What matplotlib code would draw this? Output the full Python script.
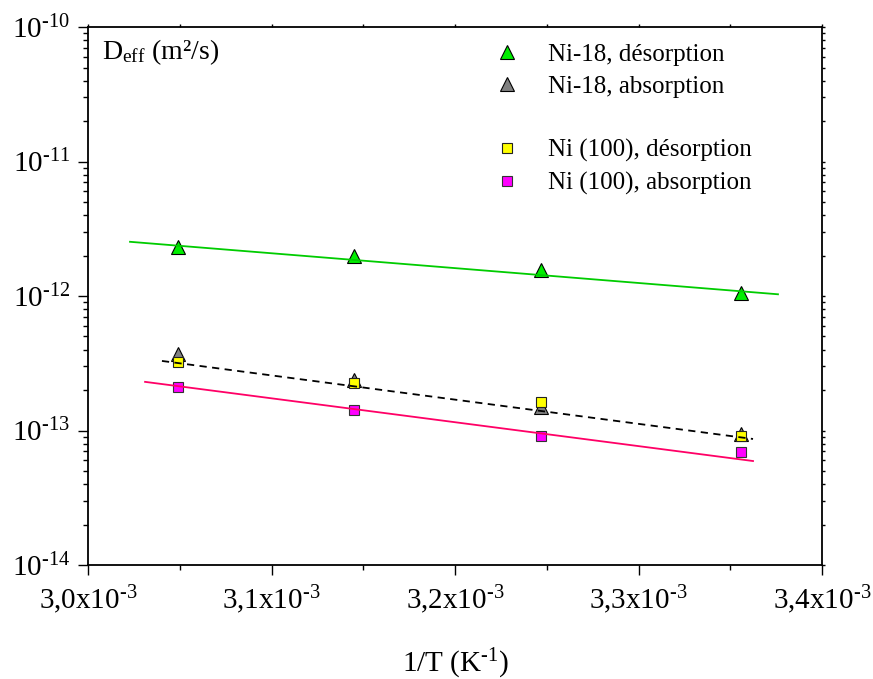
import numpy as np
import matplotlib
matplotlib.use("Agg")
import matplotlib.pyplot as plt
from matplotlib.ticker import FixedLocator, LogLocator, NullFormatter
from matplotlib.lines import Line2D

plt.rcParams['font.family'] = ['Liberation Serif', 'DejaVu Serif']
plt.rcParams['mathtext.fontset'] = 'custom'
plt.rcParams['mathtext.rm'] = 'Liberation Serif'
plt.rcParams['mathtext.it'] = 'Liberation Serif:italic'
plt.rcParams['mathtext.bf'] = 'Liberation Serif:bold'
plt.rcParams['mathtext.default'] = 'rm'

HY = '\u2010'  # hyphen used in superscripts

# ---- data ----
inv_T = [3.0488e-3, 3.1447e-3, 3.2468e-3, 3.3557e-3]
ni18_des = [2.31e-12, 1.98e-12, 1.56e-12, 1.05e-12]
ni18_abs = [3.71e-13, 2.37e-13, 1.50e-13, 9.4e-14]
ni100_des = [3.23e-13, 2.26e-13, 1.63e-13, 9.1e-14]
ni100_abs = [2.11e-13, 1.42e-13, 9.1e-14, 6.9e-14]

fit_x_green = [3.0229e-3, 3.376e-3]
fit_y_green = [2.53e-12, 1.03e-12]
fit_x_black = [3.0403e-3, 3.3624e-3]
fit_y_black = [3.29e-13, 8.65e-14]
fit_x_pink = [3.0311e-3, 3.3624e-3]
fit_y_pink = [2.30e-13, 5.93e-14]

labels = ['Ni-18, désorption', 'Ni-18, absorption', '',
          'Ni (100), désorption', 'Ni (100), absorption']
x_ticks = [3.0e-3, 3.1e-3, 3.2e-3, 3.3e-3, 3.4e-3]
x_tick_labels = ['3,0', '3,1', '3,2', '3,3', '3,4']
y_ticks = [1e-14, 1e-13, 1e-12, 1e-11, 1e-10]
y_exps = ['14', '13', '12', '11', '10']

fig = plt.figure(figsize=(8.73, 6.79), dpi=100)
ax = fig.add_axes([0.1008, 0.1679, 0.8408, 0.7923])

ax.set_yscale('log')
ax.set_xlim(3.0e-3, 3.4e-3)
ax.set_ylim(1e-14, 1e-10)

# markers
h1, = ax.plot(inv_T, ni18_des, ls='none', marker='^', ms=10, mfc='#00ee00', mec='black', mew=0.8, zorder=3)
h2, = ax.plot(inv_T, ni18_abs, ls='none', marker='^', ms=10, mfc='#808080', mec='black', mew=0.8, zorder=3)
h3, = ax.plot(inv_T, ni100_des, ls='none', marker='s', ms=7.5, mfc='#ffff00', mec='#222222', mew=0.8, zorder=3)
h4, = ax.plot(inv_T, ni100_abs, ls='none', marker='s', ms=7.5, mfc='#ff00ff', mec='#333333', mew=0.8, zorder=3)

# fit lines
ax.plot(fit_x_green, fit_y_green, color='#00cc00', lw=1.3, zorder=4)
ax.plot(fit_x_black, fit_y_black, color='black', lw=1.3, dashes=(4, 3), zorder=4)
ax.plot(fit_x_pink, fit_y_pink, color='#ff0066', lw=1.3, zorder=4)

# ticks
ax.xaxis.set_major_locator(FixedLocator(x_ticks))
ax.xaxis.set_minor_locator(FixedLocator([3.05e-3, 3.15e-3, 3.25e-3, 3.35e-3]))
ax.set_xticklabels([f'{t}x10$^{{\\mathrm{{{HY}3}}}}$' for t in x_tick_labels])
ax.yaxis.set_major_locator(FixedLocator(y_ticks))
ax.yaxis.set_minor_locator(LogLocator(base=10, subs=np.arange(2, 10), numticks=20))
ax.yaxis.set_minor_formatter(NullFormatter())
ax.set_yticklabels([f'10$^{{\\mathrm{{{HY}{e}}}}}$' for e in y_exps])

ax.tick_params(which='major', direction='out', length=7, width=1.0, labelsize=21, pad=6)
ax.tick_params(which='minor', direction='out', length=3.5, width=1.0)
ax.tick_params(top=True, right=True, which='both')
for t in ax.xaxis.get_major_ticks() + ax.xaxis.get_minor_ticks():
    t.tick2line.set_markersize(2)
for t in ax.yaxis.get_major_ticks() + ax.yaxis.get_minor_ticks():
    t.tick2line.set_markersize(2)

for s in ax.spines.values():
    s.set_linewidth(1.3)

ax.set_xlabel(f'1/T (K$^{{\\mathrm{{{HY}1}}}}$)', fontsize=21, labelpad=22)

ax.text(0.019, 0.9535, 'D$_{\\mathrm{eff}}$ (m²/s)', transform=ax.transAxes,
        fontsize=20, va='center', ha='left')

blank = Line2D([], [], ls='none')
ax.legend([h1, h2, blank, h3, h4], labels, loc='upper left',
          bbox_to_anchor=(494.5 / 873, 1 - 43 / 679), bbox_transform=fig.transFigure,
          frameon=False, fontsize=18, handlelength=1.0, handletextpad=1.14,
          borderpad=0, borderaxespad=0, labelspacing=0.38, numpoints=1)

fig.savefig('out.png', dpi=100)
